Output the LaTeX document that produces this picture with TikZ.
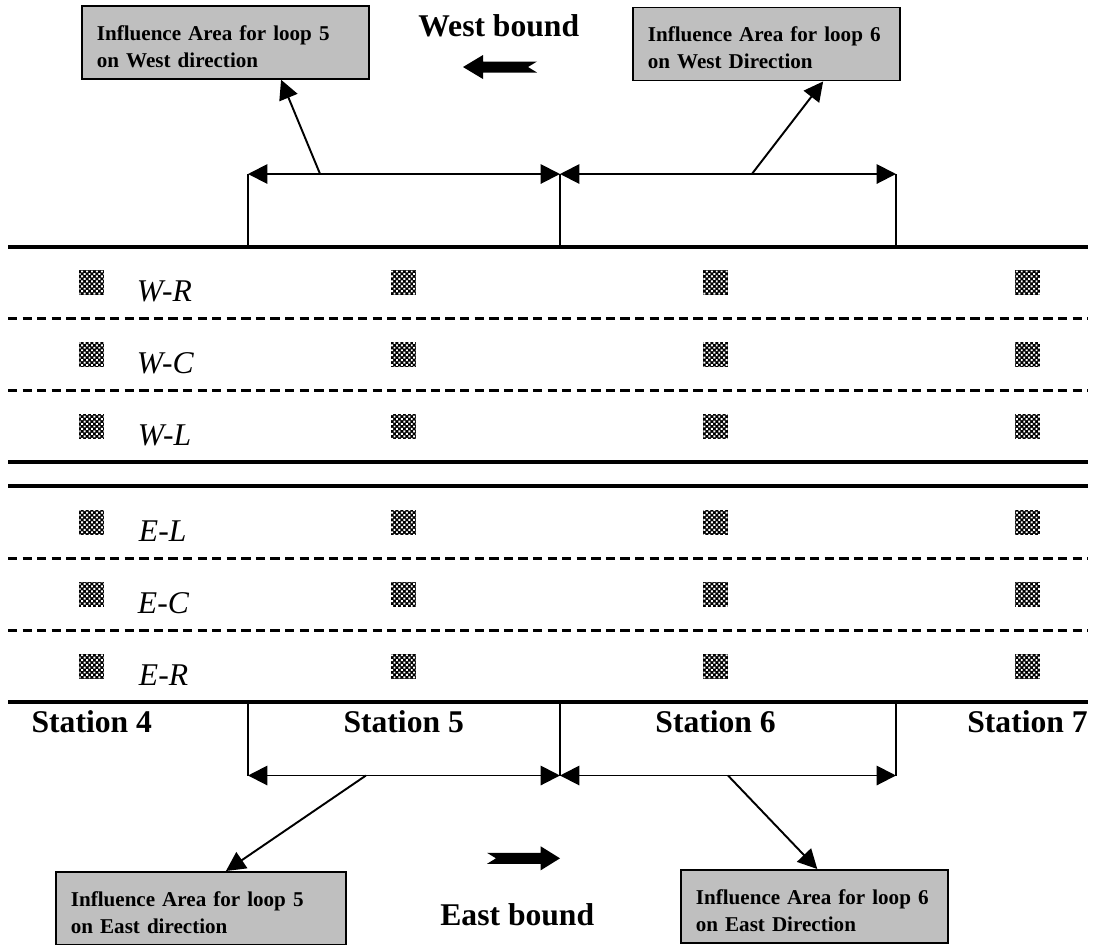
\documentclass[tikz,border=0pt]{standalone}
\usepackage{fontspec}
\setmainfont{Liberation Serif}
\usetikzlibrary{arrows.meta, positioning, patterns, calc}

\pgfdeclarepatternformonly{loopdots}{\pgfqpoint{-0.5pt}{-0.5pt}}{\pgfqpoint{3.3pt}{3.3pt}}{\pgfqpoint{2.8pt}{2.8pt}}{%
    \pgfpathrectangle{\pgfqpoint{0pt}{0pt}}{\pgfqpoint{1.1pt}{1.1pt}}%
    \pgfpathrectangle{\pgfqpoint{1.4pt}{1.4pt}}{\pgfqpoint{1.1pt}{1.1pt}}%
    \pgfusepath{fill}}

\tikzstyle{road} = [line width=2.3pt]
\tikzstyle{lane} = [line width=1.4pt, dash pattern=on 5.3pt off 3pt]
\tikzstyle{loopbox} = [rectangle, minimum size=0.5cm, inner sep=0pt, fill=black, postaction={pattern=loopdots, pattern color=white}]
\tikzstyle{lanelabel} = [inner sep=0pt, font=\itshape\fontsize{18}{21}\selectfont]
\tikzstyle{station} = [anchor=base, inner sep=0pt, font=\bfseries\fontsize{18}{21}\selectfont]
\tikzstyle{bound} = [anchor=base west, inner sep=0pt, font=\bfseries\fontsize{18}{21}\selectfont]
\tikzstyle{infobox} = [rectangle, anchor=north west, draw=black, line width=1pt, fill=black!25, align=left, inner xsep=0.3cm, minimum height=1.46cm, font=\bfseries\fontsize{12}{15.5}\selectfont]
\tikzstyle{dimline} = [line width=1.1pt, {Triangle[length=11pt,width=11pt]}-{Triangle[length=11pt,width=11pt]}]
\tikzstyle{pointer} = [line width=1.1pt, -{Triangle[length=11pt,width=11pt]}]
\tikzstyle{marker} = [line width=1.1pt]

\begin{document}
\begin{tikzpicture}[x=0.02cm, y=-0.02cm]
        \useasboundingbox (0,0) rectangle (1094,944);
        %road edges and lane lines
        \coordinate (roadN) at (0,246.7);
        \coordinate (roadS) at (0,702.3);
        \draw [road] (8,246.7) -- (1088,246.7);
        \draw [lane] (8,318.3) -- (1088,318.3);
        \draw [lane] (8,390.7) -- (1088,390.7);
        \draw [road] (8,462.3) -- (1088,462.3);
        \draw [road] (8,485.7) -- (1088,485.7);
        \draw [lane] (8,558.3) -- (1088,558.3);
        \draw [lane] (8,630.7) -- (1088,630.7);
        \draw [road] (8,702.3) -- (1088,702.3);
        %loop detectors
        \foreach \r/\y in {WR/282.5, WC/354.5, WL/426.5, EL/522, EC/594.5, ER/666.5}
            \foreach \c/\x in {4/91.8, 5/403.7, 6/715.6, 7/1027.5}
                \node (loop\r\c) [loopbox] at (\x,\y) {};
        %lane names
        \node (labWR) [lanelabel, right=0.64cm of loopWR4, yshift=-0.18cm] {W-R};
        \node (labWC) [lanelabel, right=0.64cm of loopWC4, yshift=-0.18cm] {W-C};
        \node (labWL) [lanelabel, right=0.66cm of loopWL4, yshift=-0.18cm] {W-L};
        \node (labEL) [lanelabel, right=0.68cm of loopEL4, yshift=-0.18cm] {E-L};
        \node (labEC) [lanelabel, right=0.66cm of loopEC4, yshift=-0.18cm] {E-C};
        \node (labER) [lanelabel, right=0.68cm of loopER4, yshift=-0.18cm] {E-R};
        %stations
        \foreach \c/\x in {4/91.8, 5/403.7, 6/715.6, 7/1027.5}
            \node (st\c) [station] at (\x,732.5) {Station \c};
        %direction
        \node (westlab) [bound] at (418,36.7) {West bound};
        \node (eastlab) [bound] at (440,925) {East bound};
        \fill (463,67) -- (483,55) -- (483,61.5) -- (537,61.5) -- (528,67) -- (537,72.5) -- (483,72.5) -- (483,79) -- cycle;
        \fill (560,858.3) -- (540.7,846.3) -- (540.7,852.8) -- (487,852.8) -- (496,858.3) -- (487,863.8) -- (540.7,863.8) -- (540.7,870.3) -- cycle;
        %influence areas
        \coordinate (wa) at (248,174);
        \coordinate (wb) at (560,174);
        \coordinate (wc) at (896,174);
        \coordinate (ea) at (248,775.5);
        \coordinate (eb) at (560,775.5);
        \coordinate (ec) at (896,775.5);
        \draw [marker] (wa) -- (wa |- roadN);
        \draw [marker] (wb) -- (wb |- roadN);
        \draw [marker] (wc) -- (wc |- roadN);
        \draw [marker] (ea) -- (ea |- roadS);
        \draw [marker] (eb) -- (eb |- roadS);
        \draw [marker] (ec) -- (ec |- roadS);
        \draw [dimline] (wa) -- (wb);
        \draw [dimline] (wb) -- (wc);
        \draw [dimline] (ea) -- (eb);
        \draw [dimline] (eb) -- (ec);
        \node (w5box) [infobox, text width=5.14cm] at (81,5) {\rule{0pt}{13pt}Influence Area for loop 5\\on West direction};
        \node (w6box) [infobox, text width=4.75cm] at (632,6.7) {\rule{0pt}{13pt}Influence Area for loop 6\\on West Direction};
        \node (e5box) [infobox, text width=5.2cm] at (55,871) {\rule{0pt}{13pt}Influence Area for loop 5\\on East direction};
        \node (e6box) [infobox, text width=4.75cm] at (680,869) {\rule{0pt}{13pt}Influence Area for loop 6\\on East Direction};
        %arrows to boxes
        \draw [pointer] ($(wa)!0.231!(wb)$) -- ($(w5box.south west)!0.693!(w5box.south east)$);
        \draw [pointer] ($(wb)!0.571!(wc)$) -- ($(w6box.south west)!0.71!(w6box.south east)$);
        \draw [pointer] ($(ea)!0.378!(eb)$) -- ($(e5box.north west)!0.586!(e5box.north east)$);
        \draw [pointer] ($(eb)!0.5!(ec)$) -- ($(e6box.north west)!0.51!(e6box.north east)$);
    \end{tikzpicture}
\end{document}
